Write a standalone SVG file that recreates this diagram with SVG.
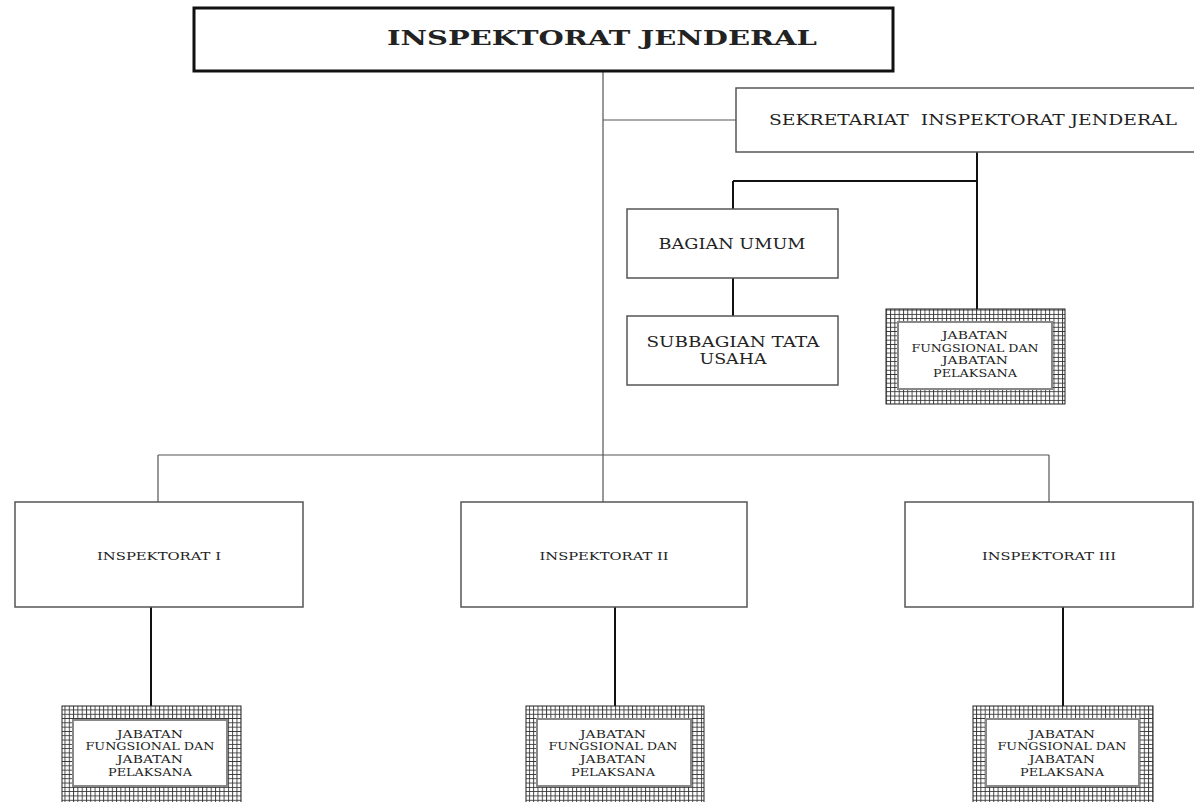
<svg xmlns="http://www.w3.org/2000/svg" width="1194" height="802" viewBox="0 0 1194 802">
<style>
.box{fill:#fff;stroke:#555;stroke-width:1.5}
.t{font-family:"DejaVu Serif","Liberation Serif",serif;fill:#222;text-anchor:middle}
.thin{stroke:#555;stroke-width:1.2;fill:none}
.thick{stroke:#111;stroke-width:2;fill:none}
.jo{fill:url(#grid);stroke:#222;stroke-width:1}
.ji{fill:#fff;stroke:#888;stroke-width:2}
.jt{font-family:"DejaVu Serif","Liberation Serif",serif;fill:#222;text-anchor:middle;font-size:11.5px}
</style>
<defs>
<pattern id="grid" patternUnits="userSpaceOnUse" width="4.3" height="4.3">
<rect width="4.3" height="4.3" fill="#fff"/>
<path d="M0 0.5H4.3M0.5 0V4.3" stroke="#333" stroke-width="0.9"/>
</pattern>
</defs>
<rect width="1194" height="802" fill="#fff"/>
<g id="connectors">
<path class="thin" d="M603 72V502M603 120H736M158 455H1049M158 455V502M1049 455V502"/>
<path class="thick" d="M977 152V309M733 181H977M733 181V209M733 278V316M151 607V706M615 607V706M1063 607V706"/>
</g>
<g id="inspektorat-jenderal">
<rect x="194" y="8" width="699" height="63" fill="#fff" stroke="#111" stroke-width="3"/>
<text class="t" x="602" y="45" font-size="21" font-weight="bold" textLength="430" lengthAdjust="spacingAndGlyphs">INSPEKTORAT JENDERAL</text>
</g>
<g id="sekretariat">
<rect class="box" x="736" y="88" width="460" height="64"/>
<text class="t" x="973" y="125" font-size="15" textLength="408" lengthAdjust="spacingAndGlyphs" style="white-space:pre">SEKRETARIAT  INSPEKTORAT JENDERAL</text>
</g>
<g id="bagian-umum">
<rect class="box" x="627" y="209" width="211" height="69"/>
<text class="t" x="732" y="249" font-size="15.5" textLength="147" lengthAdjust="spacingAndGlyphs">BAGIAN UMUM</text>
</g>
<g id="subbagian-tata-usaha">
<rect class="box" x="627" y="316" width="211" height="69"/>
<text class="t" x="733" y="347" font-size="15.5" textLength="173" lengthAdjust="spacingAndGlyphs">SUBBAGIAN TATA</text>
<text class="t" x="733" y="364" font-size="15.5" textLength="67" lengthAdjust="spacingAndGlyphs">USAHA</text>
</g>
<g id="jabatan-sekretariat">
<rect class="jo" x="886" y="309" width="179" height="95"/>
<rect class="ji" x="898" y="322" width="154" height="67"/>
<text class="jt" x="975" y="339" textLength="66" lengthAdjust="spacingAndGlyphs">JABATAN</text>
<text class="jt" x="975" y="351.5" textLength="127" lengthAdjust="spacingAndGlyphs">FUNGSIONAL DAN</text>
<text class="jt" x="975" y="364" textLength="66" lengthAdjust="spacingAndGlyphs">JABATAN</text>
<text class="jt" x="975" y="376.5" textLength="84" lengthAdjust="spacingAndGlyphs">PELAKSANA</text>
</g>
<g id="inspektorat-1">
<rect class="box" x="15" y="502" width="288" height="105"/>
<text class="t" x="159" y="560" font-size="11" textLength="124" lengthAdjust="spacingAndGlyphs">INSPEKTORAT I</text>
</g>
<g id="inspektorat-2">
<rect class="box" x="461" y="502" width="286" height="105"/>
<text class="t" x="604" y="560" font-size="11" textLength="129" lengthAdjust="spacingAndGlyphs">INSPEKTORAT II</text>
</g>
<g id="inspektorat-3">
<rect class="box" x="905" y="502" width="288" height="105"/>
<text class="t" x="1049" y="560" font-size="11" textLength="134" lengthAdjust="spacingAndGlyphs">INSPEKTORAT III</text>
</g>
<g id="jabatan-1">
<rect class="jo" x="62" y="706" width="179" height="100"/>
<rect class="ji" x="73" y="720" width="154" height="66"/>
<text class="jt" x="150" y="737.5" textLength="66" lengthAdjust="spacingAndGlyphs">JABATAN</text>
<text class="jt" x="150" y="750" textLength="129" lengthAdjust="spacingAndGlyphs">FUNGSIONAL DAN</text>
<text class="jt" x="150" y="763" textLength="66" lengthAdjust="spacingAndGlyphs">JABATAN</text>
<text class="jt" x="150" y="775.5" textLength="84" lengthAdjust="spacingAndGlyphs">PELAKSANA</text>
</g>
<g id="jabatan-2">
<rect class="jo" x="526" y="706" width="178" height="100"/>
<rect class="ji" x="537" y="719" width="154" height="67"/>
<text class="jt" x="613" y="737.5" textLength="66" lengthAdjust="spacingAndGlyphs">JABATAN</text>
<text class="jt" x="613" y="750" textLength="129" lengthAdjust="spacingAndGlyphs">FUNGSIONAL DAN</text>
<text class="jt" x="613" y="763" textLength="66" lengthAdjust="spacingAndGlyphs">JABATAN</text>
<text class="jt" x="613" y="775.5" textLength="84" lengthAdjust="spacingAndGlyphs">PELAKSANA</text>
</g>
<g id="jabatan-3">
<rect class="jo" x="973" y="706" width="180" height="100"/>
<rect class="ji" x="986" y="719" width="153" height="67"/>
<text class="jt" x="1062" y="737.5" textLength="66" lengthAdjust="spacingAndGlyphs">JABATAN</text>
<text class="jt" x="1062" y="750" textLength="129" lengthAdjust="spacingAndGlyphs">FUNGSIONAL DAN</text>
<text class="jt" x="1062" y="763" textLength="66" lengthAdjust="spacingAndGlyphs">JABATAN</text>
<text class="jt" x="1062" y="775.5" textLength="84" lengthAdjust="spacingAndGlyphs">PELAKSANA</text>
</g>
</svg>
